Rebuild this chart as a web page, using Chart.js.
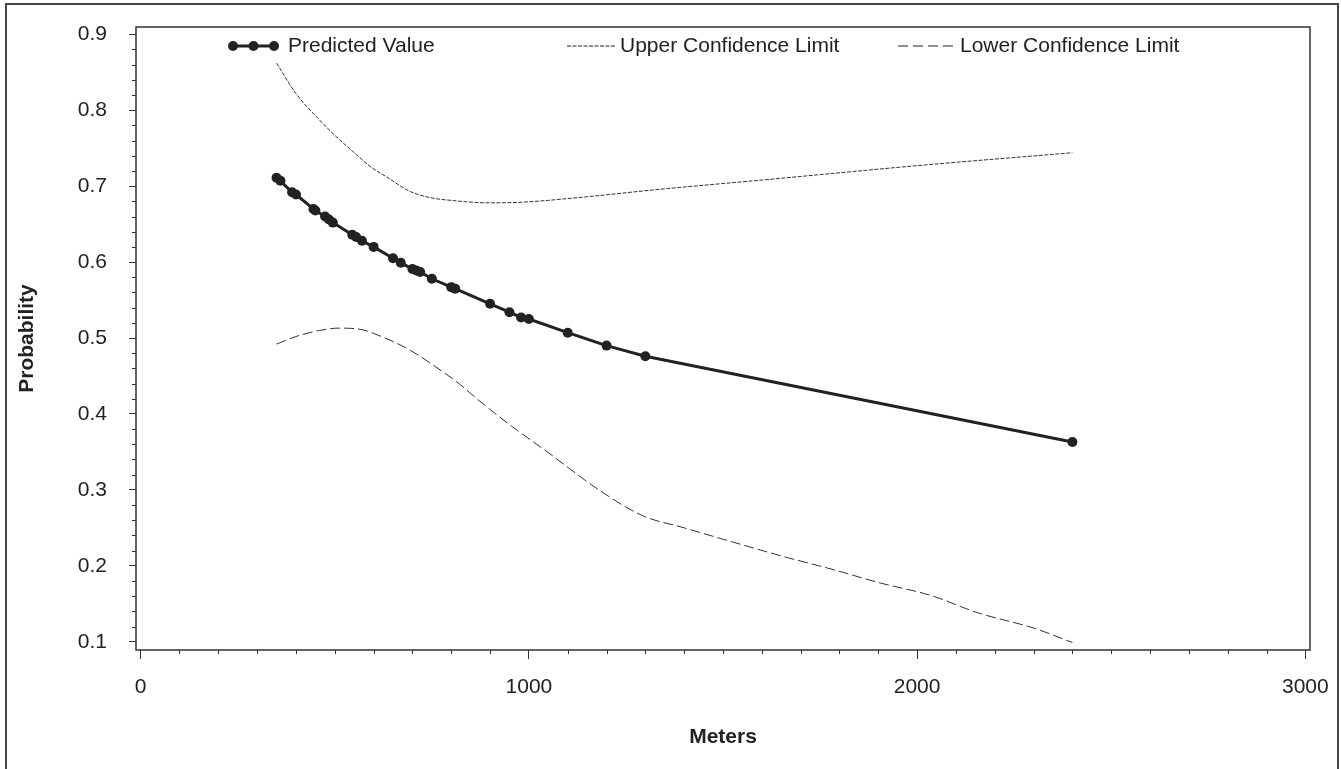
<!DOCTYPE html>
<html>
<head>
<meta charset="utf-8">
<script src="https://cdn.jsdelivr.net/npm/chart.js@4/dist/chart.umd.min.js"></script>
<style>
  body { margin: 0; background: #fff; }
  #wrap { position: relative; width: 1341px; height: 769px; overflow: hidden; }
  #frame { position: absolute; left: 5px; top: 3px; width: 1330px; height: 800px; border: 2px solid #444; }
  canvas { position: absolute; left: 0; top: 0; }
</style>
</head>
<body>
<div id="wrap">
  <div id="frame"></div>
  <canvas id="myChart" width="1341" height="769"></canvas>
</div>
<script>
const FONT = "Arial, 'Liberation Sans', sans-serif";

const xTicks = [0, 1000, 2000, 3000];
const yTicks = [0.1, 0.2, 0.3, 0.4, 0.5, 0.6, 0.7, 0.8, 0.9];

const predMeters = [350, 360, 390, 400, 445, 450, 475, 485, 495, 545, 555, 570, 600, 650, 670, 700, 710, 720, 750, 800, 810, 900, 950, 980, 1000, 1100, 1200, 1300, 2400];
const predValues = [0.711, 0.707, 0.692, 0.689, 0.670, 0.668, 0.660, 0.656, 0.652, 0.636, 0.633, 0.628, 0.620, 0.605, 0.599, 0.591, 0.589, 0.587, 0.578, 0.567, 0.565, 0.545, 0.534, 0.527, 0.525, 0.507, 0.490, 0.476, 0.363];

const upperMeters = [350, 400, 461, 500, 548, 591, 634, 694, 745, 805, 900, 986, 1149, 1320, 1621, 2000, 2400];
const upperValues = [0.862, 0.822, 0.787, 0.767, 0.745, 0.726, 0.712, 0.693, 0.685, 0.681, 0.678, 0.679, 0.686, 0.695, 0.709, 0.727, 0.744];

const lowerMeters = [350, 400, 461, 510, 559, 620, 694, 760, 820, 866, 950, 1050, 1183, 1293, 1400, 1500, 1650, 1791, 1900, 2035, 2157, 2300, 2400];
const lowerValues = [0.492, 0.502, 0.510, 0.513, 0.512, 0.502, 0.484, 0.462, 0.440, 0.420, 0.386, 0.349, 0.299, 0.266, 0.250, 0.235, 0.213, 0.194, 0.178, 0.161, 0.138, 0.118, 0.099];

const toXY = (xs, ys) => xs.map((x, i) => ({ x: x, y: ys[i] }));

const INK = "#222";
const SIZE = 21;

// frame round the plot, minor ticks and the legend row
const extras = {
  id: "extras",
  afterDraw(chart) {
    const ctx = chart.ctx;
    const a = chart.chartArea;
    const xs = chart.scales.x;
    const ys = chart.scales.y;
    ctx.save();

    ctx.strokeStyle = "#333";
    ctx.lineWidth = 1.5;
    ctx.strokeRect(a.left, a.top, a.right - a.left, a.bottom - a.top);

    ctx.lineWidth = 1;
    ctx.beginPath();
    for (let v = 100; v < 3000; v += 100) {
      if (v % 1000 === 0) continue;
      const px = Math.round(xs.getPixelForValue(v)) + 0.5;
      ctx.moveTo(px, a.bottom);
      ctx.lineTo(px, a.bottom + 4);
    }
    for (let k = 6; k <= 44; k++) {
      if (k % 5 === 0) continue;
      const py = Math.round(ys.getPixelForValue(k * 0.02)) + 0.5;
      ctx.moveTo(a.left - 4, py);
      ctx.lineTo(a.left, py);
    }
    ctx.stroke();

    // legend
    const ly = 46;
    ctx.fillStyle = INK;
    ctx.strokeStyle = INK;
    ctx.font = SIZE + "px " + FONT;
    ctx.textBaseline = "middle";

    ctx.lineWidth = 3;
    ctx.beginPath();
    ctx.moveTo(230, ly);
    ctx.lineTo(277, ly);
    ctx.stroke();
    [233, 253.5, 274].forEach((cx) => {
      ctx.beginPath();
      ctx.arc(cx, ly, 5, 0, Math.PI * 2);
      ctx.fill();
    });
    ctx.fillText("Predicted Value", 288, ly);

    ctx.lineWidth = 1;
    ctx.setLineDash([4, 1.5]);
    ctx.beginPath();
    ctx.moveTo(567, ly);
    ctx.lineTo(615, ly);
    ctx.stroke();
    ctx.setLineDash([]);
    ctx.fillText("Upper Confidence Limit", 620, ly);

    ctx.setLineDash([10, 5]);
    ctx.beginPath();
    ctx.moveTo(898, ly);
    ctx.lineTo(953, ly);
    ctx.stroke();
    ctx.setLineDash([]);
    ctx.fillText("Lower Confidence Limit", 960, ly);

    ctx.restore();
  },
};

new Chart(document.getElementById("myChart"), {
  type: "line",
  data: {
    datasets: [
      {
        label: "Predicted Value",
        data: toXY(predMeters, predValues),
        borderColor: INK,
        backgroundColor: INK,
        borderWidth: 3,
        pointRadius: 5,
        pointBorderWidth: 0,
        pointBackgroundColor: INK,
        tension: 0,
      },
      {
        label: "Upper Confidence Limit",
        data: toXY(upperMeters, upperValues),
        borderColor: "#333",
        borderWidth: 1,
        borderDash: [4, 1.5],
        pointRadius: 0,
        cubicInterpolationMode: "monotone",
      },
      {
        label: "Lower Confidence Limit",
        data: toXY(lowerMeters, lowerValues),
        borderColor: "#333",
        borderWidth: 1,
        borderDash: [10, 4],
        pointRadius: 0,
        cubicInterpolationMode: "monotone",
      },
    ],
  },
  options: {
    responsive: false,
    animation: false,
    layout: { padding: { top: 27, right: 31, bottom: 0, left: 0 } },
    plugins: {
      legend: { display: false },
      tooltip: { enabled: false },
    },
    scales: {
      x: {
        type: "linear",
        min: -12,
        max: 3012,
        border: { display: false },
        grid: { drawOnChartArea: false, drawTicks: true, tickLength: 9, tickColor: "#333" },
        afterBuildTicks: (s) => { s.ticks = xTicks.map((v) => ({ value: v })); },
        afterFit: (s) => { s.height = 119; s.paddingLeft = 0; s.paddingRight = 0; },
        ticks: {
          autoSkip: false,
          maxRotation: 0,
          padding: 16,
          color: INK,
          font: { family: FONT, size: SIZE },
          callback: (v) => String(v),
        },
        title: {
          display: true,
          text: "Meters",
          color: INK,
          font: { family: FONT, size: SIZE, weight: "bold" },
          padding: { top: 0, bottom: 19 },
        },
      },
      y: {
        min: 0.0891,
        max: 0.9096,
        border: { display: false },
        grid: { drawOnChartArea: false, drawTicks: true, tickLength: 7, tickColor: "#333" },
        afterBuildTicks: (s) => { s.ticks = yTicks.map((v) => ({ value: v })); },
        afterFit: (s) => { s.width = 136; s.paddingTop = 0; s.paddingBottom = 0; },
        ticks: {
          autoSkip: false,
          padding: 22,
          color: INK,
          font: { family: FONT, size: SIZE },
          callback: (v) => v.toFixed(1),
        },
        title: {
          display: true,
          text: "Probability",
          color: INK,
          font: { family: FONT, size: SIZE, weight: "bold" },
          padding: { top: 15, bottom: 0 },
        },
      },
    },
  },
  plugins: [extras],
});
</script>
</body>
</html>
